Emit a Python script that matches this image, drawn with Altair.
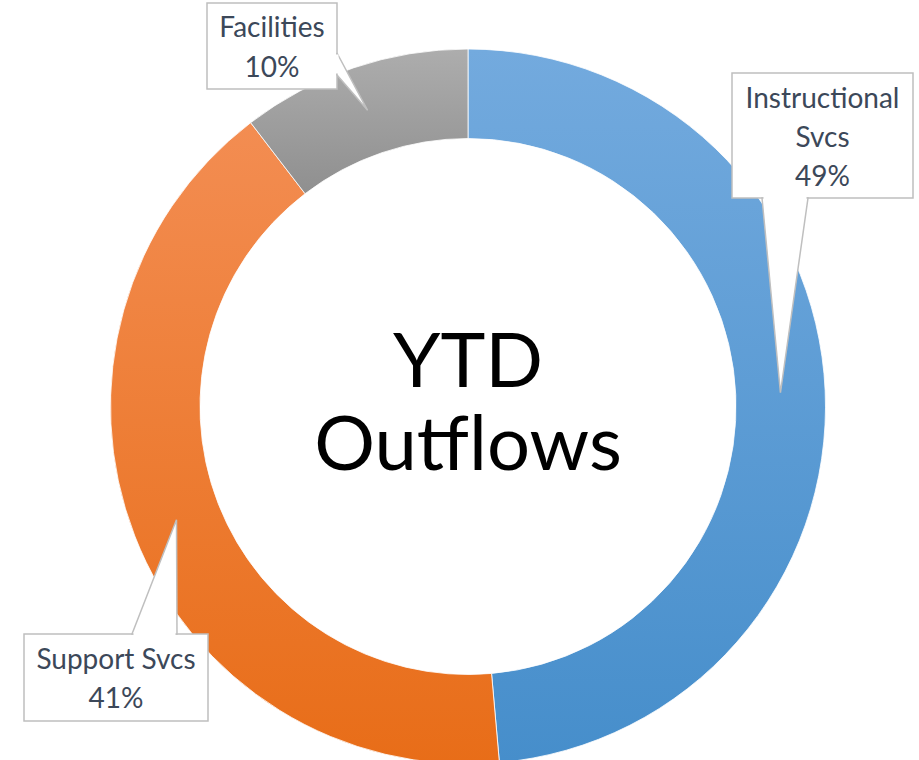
import math
import altair as alt
import pandas as pd

# ---- data ----
categories = ["Instructional Svcs", "Support Svcs", "Facilities"]
values = [48.6, 41.0, 10.4]
label_lines = [["Instructional", "Svcs"], ["Support Svcs"], ["Facilities"]]
center_lines = ["YTD", "Outflows"]

# ---- layout / style ----
W, H = 919, 760
CX, CY = 468, 406.5
R_OUT, R_IN = 357.5, 268
R_MID = (R_OUT + R_IN) / 2
FONT = "Lato"
TEXT_COLOR = "#3C4859"
BORDER = "#BFBFBF"
gradients = {
    "Instructional Svcs": ("#73AADE", "#468ECB"),
    "Support Svcs": ("#F38D52", "#E86D18"),
    "Facilities": ("#ADADAD", "#8F8F8F"),
}
# callout boxes: x0, y0, x1, y1, text x, first baseline, line height
boxes = {
    "Instructional Svcs": dict(x0=732, y0=73, x1=913, y1=198, tx=822.5, ty=108, lh=39),
    "Support Svcs": dict(x0=24, y0=634, x1=208, y1=721, tx=116, ty=669, lh=39),
    "Facilities": dict(x0=207, y0=3, x1=337, y1=89, tx=272, ty=37, lh=40),
}
# pointer bases on the box edge: (orientation, fixed coord, a, b)
bases = {
    "Instructional Svcs": ("h", 198, 762, 808),
    "Support Svcs": ("h", 634, 132, 177),
    "Facilities": ("v", 337, 53, 75),
}

total = sum(values)
rows = []
cum = 0.0
for c, v, ll in zip(categories, values, label_lines):
    frac = v / total
    start, end = cum, cum + frac
    cum = end
    mid = (start + end) / 2 * 2 * math.pi
    tipx = CX + R_MID * math.sin(mid)
    tipy = CY - R_MID * math.cos(mid)
    b = boxes[c]
    rows.append(dict(cat=c, value=v, start=start, end=end, tipx=tipx, tipy=tipy,
                     text=ll + [f"{round(frac * 100)}%"], **b))
df = pd.DataFrame(rows)

xs = alt.Scale(domain=[0, W], range=[0, W])
ys = alt.Scale(domain=[0, H], range=[0, H])

layers = []
for c in categories:
    top, bot = gradients[c]
    grad = alt.Gradient(gradient="linear", x1=0, y1=0, x2=0, y2=1,
                        stops=[alt.GradientStop(offset=0, color=top),
                               alt.GradientStop(offset=1, color=bot)])
    layers.append(
        alt.Chart(df).transform_filter(alt.datum.cat == c)
        .mark_arc(outerRadius=R_OUT, innerRadius=R_IN, fill=grad,
                  stroke="white", strokeWidth=0.8)
        .encode(theta=alt.Theta("start:Q", scale=alt.Scale(domain=[0, 1])),
                theta2="end:Q",
                x=alt.value(CX), y=alt.value(CY))
    )

rects = alt.Chart(df).mark_rect(fill="white", stroke=BORDER, strokeWidth=1.5).encode(
    x=alt.X("x0:Q", scale=xs, axis=None), x2="x1:Q",
    y=alt.Y("y0:Q", scale=ys, axis=None), y2="y1:Q",
)

hrows, vrows, hcov, vcov = [], [], [], []
for r in rows:
    o, f, a, b = bases[r["cat"]]
    if o == "h":
        hrows.append(dict(cat=r["cat"], py=f, px=a, px2=b))
        hrows.append(dict(cat=r["cat"], py=r["tipy"], px=r["tipx"], px2=r["tipx"]))
        hcov.append(dict(cat=r["cat"], py=f, px=a + 1.5, px2=b - 1.5))
    else:
        vrows.append(dict(cat=r["cat"], px=f, py=a, py2=b))
        vrows.append(dict(cat=r["cat"], px=r["tipx"], py=r["tipy"], py2=r["tipy"]))
        vcov.append(dict(cat=r["cat"], px=f, py=a + 1.5, py2=b - 1.5))

tri_h = alt.Chart(pd.DataFrame(hrows)).mark_area(
    orient="horizontal", fill="white", stroke=BORDER, strokeWidth=1.5).encode(
    y=alt.Y("py:Q", scale=ys, axis=None), x=alt.X("px:Q", scale=xs, axis=None),
    x2="px2:Q", detail="cat:N")
tri_v = alt.Chart(pd.DataFrame(vrows)).mark_area(
    orient="vertical", fill="white", stroke=BORDER, strokeWidth=1.5).encode(
    x=alt.X("px:Q", scale=xs, axis=None), y=alt.Y("py:Q", scale=ys, axis=None),
    y2="py2:Q", detail="cat:N")
cov_h = alt.Chart(pd.DataFrame(hcov)).mark_rule(color="white", strokeWidth=3).encode(
    x=alt.X("px:Q", scale=xs, axis=None), x2="px2:Q", y=alt.Y("py:Q", scale=ys, axis=None))
cov_v = alt.Chart(pd.DataFrame(vcov)).mark_rule(color="white", strokeWidth=3).encode(
    y=alt.Y("py:Q", scale=ys, axis=None), y2="py2:Q", x=alt.X("px:Q", scale=xs, axis=None))

labels_layers = []
for c in categories:
    b = boxes[c]
    labels_layers.append(
        alt.Chart(df).transform_filter(alt.datum.cat == c)
        .mark_text(font=FONT, fontSize=28, color=TEXT_COLOR, align="center",
                   baseline="alphabetic", lineHeight=b["lh"])
        .encode(x=alt.X("tx:Q", scale=xs, axis=None),
                y=alt.Y("ty:Q", scale=ys, axis=None), text="text")
    )

center = alt.Chart(pd.DataFrame({"t": [center_lines]})).mark_text(
    font=FONT, fontSize=76, color="black", align="center", baseline="alphabetic",
    lineHeight=83).encode(x=alt.value(CX), y=alt.value(387), text="t")

chart = alt.layer(*layers, rects, tri_h, tri_v, cov_h, cov_v, *labels_layers, center).properties(
    width=W, height=H, padding=0, autosize=alt.AutoSizeParams(type="none"),
    background="white",
).configure_view(stroke=None)

chart.save("out.html", embed_options={"renderer": "svg", "actions": False})
